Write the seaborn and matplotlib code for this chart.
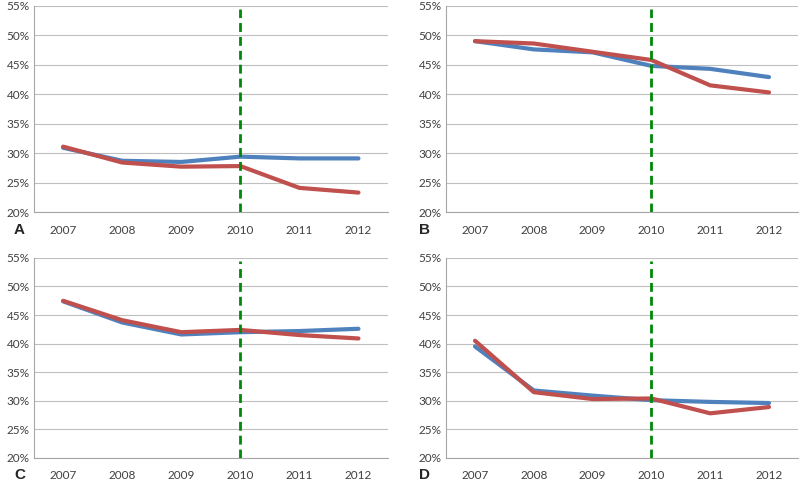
import pandas as pd
import matplotlib
matplotlib.use('Agg')
import matplotlib.pyplot as plt
import seaborn as sns
from matplotlib.ticker import FixedLocator, PercentFormatter

sns.set_style('white')
plt.rcParams['font.family'] = ['Lato', 'DejaVu Sans']

years = ['2007', '2008', '2009', '2010', '2011', '2012']
panels = ['A', 'B', 'C', 'D']

blue_A = [30.9, 28.7, 28.5, 29.4, 29.1, 29.1]
red_A = [31.1, 28.4, 27.7, 27.8, 24.1, 23.3]
blue_B = [49.0, 47.6, 47.1, 44.8, 44.3, 42.9]
red_B = [49.0, 48.6, 47.2, 45.8, 41.5, 40.3]
blue_C = [47.4, 43.7, 41.6, 42.0, 42.2, 42.6]
red_C = [47.5, 44.1, 42.0, 42.4, 41.5, 40.9]
blue_D = [39.5, 31.8, 30.9, 30.1, 29.8, 29.6]
red_D = [40.5, 31.5, 30.3, 30.4, 27.8, 28.9]

blues = {'A': blue_A, 'B': blue_B, 'C': blue_C, 'D': blue_D}
reds = {'A': red_A, 'B': red_B, 'C': red_C, 'D': red_D}
marker_year = '2010'

rows = []
for p in panels:
    for i, y in enumerate(years):
        rows.append({'panel': p, 'pos': i, 'series': 'blue', 'value': blues[p][i]})
        rows.append({'panel': p, 'pos': i, 'series': 'red', 'value': reds[p][i]})
df = pd.DataFrame(rows)

palette = {'blue': '#4F81BD', 'red': '#C0504D'}
grey = '#A6A6A6'

fig = plt.figure(figsize=(8, 4.83), dpi=100)
boxes = {
    'A': [0.042, 0.561, 0.443, 0.427],
    'B': [0.557, 0.561, 0.441, 0.427],
    'C': [0.042, 0.052, 0.443, 0.414],
    'D': [0.557, 0.052, 0.441, 0.414],
}

for p in panels:
    ax = fig.add_axes(boxes[p])
    sub = df[df['panel'] == p]
    sns.lineplot(data=sub, x='pos', y='value', hue='series', palette=palette,
                 hue_order=['blue', 'red'], linewidth=3.0, legend=False, ax=ax,
                 solid_capstyle='round')
    ax.axvline(years.index(marker_year), color='#00880A', linestyle=(0, (3.2, 1.8)),
               linewidth=2.0, ymax=0.985, zorder=3)
    ax.set_xlim(-0.5, len(years) - 0.5)
    ax.set_ylim(20, 55)
    ax.set_yticks(range(20, 56, 5))
    ax.yaxis.set_major_formatter(PercentFormatter(decimals=0))
    ax.set_xticks(range(len(years)))
    ax.set_xticklabels(years)
    ax.xaxis.set_minor_locator(FixedLocator([i - 0.5 for i in range(len(years) + 1)]))
    ax.tick_params(axis='x', which='major', length=0, pad=9, labelsize=8.5, labelcolor='#404040')
    ax.tick_params(axis='x', which='minor', length=4, color=grey, width=0.8, direction='out')
    ax.tick_params(axis='y', length=0, pad=3, labelsize=8.5, labelcolor='#404040')
    ax.grid(axis='y', color='#BFBFBF', linewidth=0.8)
    ax.set_axisbelow(True)
    for s in ['top', 'right']:
        ax.spines[s].set_visible(False)
    for s in ['left', 'bottom']:
        ax.spines[s].set_color(grey)
        ax.spines[s].set_linewidth(0.8)
    ax.set_xlabel('')
    ax.set_ylabel('')
    ax.text(-0.055 if p in 'AC' else -0.075, -0.085, p, transform=ax.transAxes,
            fontsize=11, fontweight='bold', family='Liberation Sans',
            ha='left', va='center')

fig.savefig('out.png', dpi=100)
